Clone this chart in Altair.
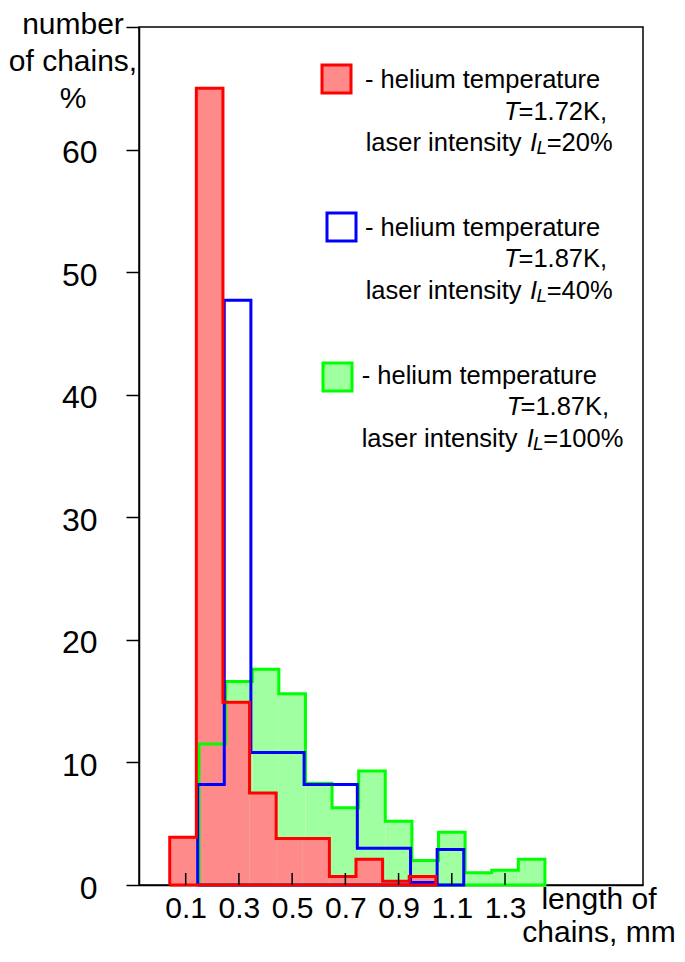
import altair as alt
import pandas as pd

# ---------------- data ----------------
red_edges = [0.04, 0.14, 0.24, 0.34, 0.44, 0.54, 0.64, 0.74, 0.84, 0.94, 1.04]
red_vals = [3.9, 65.0, 14.9, 7.5, 3.8, 3.8, 0.7, 2.1, 0.3, 0.7]

blue_edges = [0.145, 0.245, 0.345, 0.445, 0.545, 0.645, 0.745, 0.845, 0.945, 1.045, 1.145]
blue_vals = [8.2, 47.7, 10.8, 10.8, 8.2, 8.2, 3.0, 3.0, 0.2, 2.9]

green_edges = [0.15, 0.25, 0.35, 0.45, 0.55, 0.65, 0.75, 0.85, 0.95, 1.05, 1.15, 1.25, 1.35, 1.45]
green_vals = [11.5, 16.6, 17.6, 15.6, 8.3, 6.3, 9.3, 5.2, 2.0, 4.3, 1.0, 1.2, 2.1]

x_ticks = [0.1, 0.3, 0.5, 0.7, 0.9, 1.1, 1.3]
y_ticks = [0, 10, 20, 30, 40, 50, 60, 70]

y_title = ["number", "of chains,", "%"]
x_title = ["length of", "chains, mm"]
legend_head = "- helium temperature"
legend_T = ["=1.72K,", "=1.87K,", "=1.87K,"]
legend_I = ["=20%", "=40%", "=100%"]
legend_prefix = "laser intensity"

# ---------------- helpers ----------------
def outline_frame(edges, vals):
    xs, ys = [edges[0]], [0.0]
    for i, v in enumerate(vals):
        xs += [edges[i], edges[i + 1]]
        ys += [v, v]
    xs += [edges[-1], edges[0]]
    ys += [0.0, 0.0]
    return pd.DataFrame({"x": xs, "y": ys, "o": list(range(len(xs)))})


def bins_frame(edges, vals):
    return pd.DataFrame({"x": edges[:-1], "x2": edges[1:], "y": vals})


FONT = "Liberation Sans"
W, H = 504, 858

xscale = alt.Scale(domain=[-0.0755, 1.8186], nice=False, zero=False)
yscale = alt.Scale(domain=[0, 70], nice=False, zero=False)

xaxis = alt.Axis(values=x_ticks, ticks=False, grid=False, title=None,
                 labelFont=FONT, labelFontSize=30, labelColor="black",
                 labelPadding=8, labelOverlap=False, labelFlush=False,
                 domainColor="black", domainWidth=1.5)
yaxis = alt.Axis(values=y_ticks, grid=False, title=None,
                 tickSize=13, tickWidth=1.5, tickColor="black",
                 labelFont=FONT, labelFontSize=32, labelColor="black",
                 labelPadding=29, labelOffset=3, labelOverlap=False, labelFlush=False,
                 labelExpr="datum.value == 70 ? '' : datum.label",
                 domainColor="black", domainWidth=1.5)

X = alt.X("x:Q", scale=xscale, axis=xaxis)
Y = alt.Y("y:Q", scale=yscale, axis=yaxis)


def fill_layer(edges, vals, color):
    return alt.Chart(bins_frame(edges, vals)).mark_rect(
        color=color, strokeWidth=0).encode(x=X, x2="x2:Q", y=Y, y2=alt.datum(0))


def line_layer(edges, vals, color):
    return alt.Chart(outline_frame(edges, vals)).mark_line(
        color=color, strokeWidth=3, strokeJoin="miter").encode(
        x=X, y=Y, order="o:Q")


dummy = pd.DataFrame({"d": [0]})


def txt(text, x, y, size, align="left", style="normal", baseline="alphabetic"):
    return alt.Chart(dummy).mark_text(
        text=text, font=FONT, fontSize=size, fontStyle=style, align=align,
        baseline=baseline, color="black").encode(x=alt.value(x), y=alt.value(y))


def box(x0, y0, fill, stroke):
    return alt.Chart(dummy).mark_rect(fill=fill, stroke=stroke, strokeWidth=3).encode(
        x=alt.value(x0), x2=alt.value(x0 + 29), y=alt.value(y0), y2=alt.value(y0 + 28))


RED, BLUE, GREEN = "#ff0000", "#0000ff", "#00ff00"
PINK, LGREEN = "#ff8a8a", "#a0ffa0"

layers = [
    fill_layer(green_edges, green_vals, LGREEN),
    fill_layer(red_edges, red_vals, PINK),
    line_layer(green_edges, green_vals, GREEN),
    line_layer(blue_edges, blue_vals, BLUE),
    line_layer(red_edges, red_vals, RED),
    alt.Chart(pd.DataFrame({"x": x_ticks})).mark_rule(color="black", strokeWidth=1.5).encode(
        x=X, y=alt.value(H - 12), y2=alt.value(H)),
]

# y title (top-left)
for i, s in enumerate(y_title):
    layers.append(txt(s, -66, 7 + 37 * i, 30, align="center"))
# x title (bottom-right)
for i, s in enumerate(x_title):
    layers.append(txt(s, 460, 882 + 33 * i, 30, align="center"))

# legend
box_pos = [(183, 38), (188, 186), (184, 336)]
box_style = [(PINK, RED), ("white", BLUE), (LGREEN, GREEN)]
base_y = [61.3, 208.5, 356.5]
head_x = [226, 226, 222.7]
T_x = [365, 365, 367.7]
eq_x = [379.5, 379.5, 381.5]
lp_x = [226.7, 226.7, 222.7]
I_x = [391, 391, 387.7]
L_x = [397.5, 397.5, 394]
ieq_x = [407.7, 407.7, 404.3]
for g in range(3):
    layers.append(box(box_pos[g][0], box_pos[g][1], *box_style[g]))
    b = base_y[g]
    layers.append(txt(legend_head, head_x[g], b, 25.5))
    layers.append(txt("T", T_x[g], b + 31.5, 25.5, style="italic"))
    layers.append(txt(legend_T[g], eq_x[g], b + 31.5, 25.5))
    layers.append(txt(legend_prefix, lp_x[g], b + 63, 25.5))
    layers.append(txt("I", I_x[g], b + 63, 25.5, style="italic"))
    layers.append(txt("L", L_x[g], b + 66, 19, style="italic"))
    layers.append(txt(legend_I[g], ieq_x[g], b + 63, 25.5))

chart = alt.layer(*layers).properties(
    width=W, height=H,
    background="white",
    autosize=alt.AutoSizeParams(type="none"),
    padding={"left": 131, "top": 19, "right": 34, "bottom": 65},
).configure_view(stroke="black", strokeWidth=1.5)

chart.save("out.html", embed_options={"renderer": "svg", "actions": False})
